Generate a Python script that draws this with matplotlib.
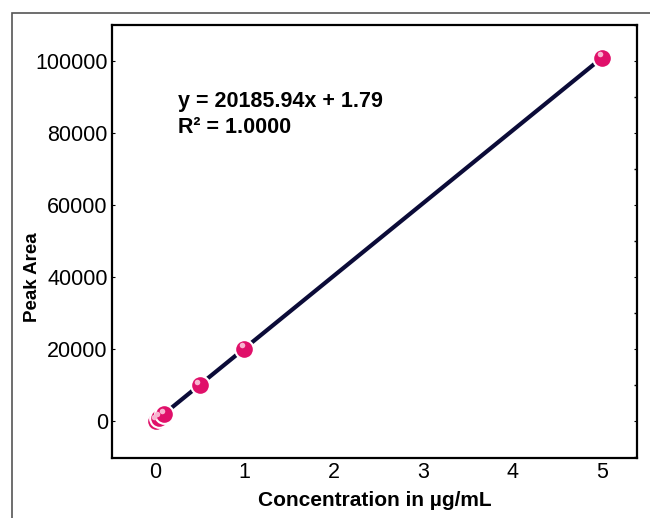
import numpy as np
import matplotlib.pyplot as plt
from matplotlib.patches import Rectangle

plt.rcParams['font.family'] = ['Liberation Sans', 'DejaVu Sans']

# Calibration data
conc = [0.01, 0.05, 0.1, 0.5, 1, 5]
area = [203, 1011, 2020, 10095, 20188, 100931]
eq_text = "y = 20185.94x + 1.79\nR\u00b2 = 1.0000"

x_ticks = [0, 1, 2, 3, 4, 5]
y_ticks = [0, 20000, 40000, 60000, 80000, 100000]

fig = plt.figure(figsize=(6.5, 5.18), dpi=100)

# outer frame around the figure
fig.patches.append(Rectangle((12 / 650, -0.1), 1.2, 1.1 - 13 / 518,
                             transform=fig.transFigure, fill=False,
                             edgecolor="#555555", linewidth=1.2, clip_on=False))

ax = fig.add_axes([112 / 650, 1 - 458 / 518, 525 / 650, 433 / 518])

ax.plot(conc, area, color="#0b0b38", linewidth=3, zorder=2)
ax.plot(conc, area, linestyle="none", marker="o", markersize=13.5,
        markerfacecolor="#e0106a", markeredgecolor="white",
        markeredgewidth=1.5, zorder=3)
# highlight on the balls
ax.plot(np.array(conc) - 0.025, np.array(area) + 900, linestyle="none",
        marker="o", markersize=4, markerfacecolor="#f7b5d0",
        markeredgecolor="none", zorder=4)

ax.text(0.125, 0.848, eq_text, transform=ax.transAxes, fontsize=15.5,
        fontweight="bold", va="top", ha="left", linespacing=1.3)

ax.set_xlim(-0.48, 5.39)
ax.set_ylim(-10200, 109700)
ax.set_xticks(x_ticks)
ax.set_yticks(y_ticks)
ax.set_yticks(np.arange(-10000, 110001, 10000), minor=True)
ax.tick_params(axis="both", which="major", length=0, labelsize=15.5, pad=3)
ax.tick_params(axis="y", which="minor", left=False, right=True,
               direction="in", length=2, width=1)
ax.tick_params(axis="y", which="major", right=True, direction="in", length=2)

for s in ax.spines.values():
    s.set_linewidth(1.6)

ax.set_xlabel("Concentration in \u00b5g/mL", fontsize=15, fontweight="bold",
              labelpad=6)
ax.set_ylabel("Peak Area", fontsize=13.5, fontweight="bold")
ax.yaxis.set_label_coords(-0.136, 0.418)

plt.savefig("out.png", dpi=100)
